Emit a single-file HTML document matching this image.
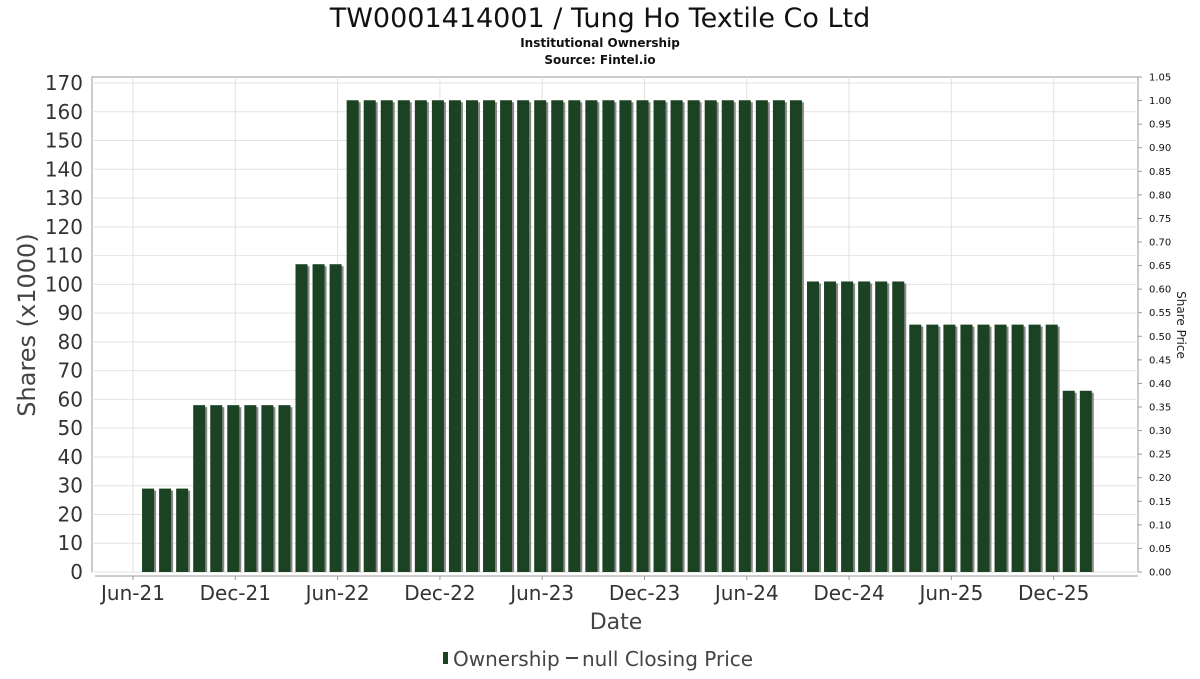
<!DOCTYPE html>
<html><head><meta charset="utf-8"><style>
body{margin:0;background:#fff;font-family:"DejaVu Sans","Liberation Sans",sans-serif;}
svg text{font-family:"DejaVu Sans","Liberation Sans",sans-serif;}
</style></head><body>
<svg id="chart" width="1200" height="675" xmlns="http://www.w3.org/2000/svg">
<text x="600" y="27" text-anchor="middle" font-size="27" fill="#111">TW0001414001 / Tung Ho Textile Co Ltd</text>
<text x="600" y="47" text-anchor="middle" font-size="12" font-weight="bold" fill="#111">Institutional Ownership</text>
<text x="600" y="64" text-anchor="middle" font-size="12" font-weight="bold" fill="#111">Source: Fintel.io</text>
<g id="grid"></g><g id="bars"></g><g id="axes"></g>
<text transform="translate(35,325) rotate(-90)" text-anchor="middle" font-size="24" fill="#444">Shares (x1000)</text>
<text transform="translate(1177,325) rotate(90)" text-anchor="middle" font-size="12" fill="#222">Share Price</text>
<text x="616" y="629" text-anchor="middle" font-size="22" fill="#444">Date</text>
<g>
<rect x="443" y="652" width="5" height="12" fill="#1a4223"/>
<text x="453" y="666" font-size="20" fill="#444">Ownership</text>
<line x1="566" y1="658" x2="578" y2="658" stroke="#444" stroke-width="2"/>
<text x="582" y="666" font-size="20" fill="#444">null Closing Price</text>
</g>
</svg>
<script>
const months = [];
(function(){const m=["Jan","Feb","Mar","Apr","May","Jun","Jul","Aug","Sep","Oct","Nov","Dec"];for(let i=0;i<56;i++){const t=6+i;months.push(m[t%12]+"-"+(21+Math.floor(t/12)));}})();
const shares = [29,29,29,58,58,58,58,58,58,107,107,107,
164,164,164,164,164,164,164,164,164,164,164,164,164,164,164,164,164,164,164,164,164,164,164,164,164,164,164,
101,101,101,101,101,101,86,86,86,86,86,86,86,86,86,63,63];
const yTicks = [0,10,20,30,40,50,60,70,80,90,100,110,120,130,140,150,160,170];
const y2Ticks = [0,0.05,0.1,0.15,0.2,0.25,0.3,0.35,0.4,0.45,0.5,0.55,0.6,0.65,0.7,0.75,0.8,0.85,0.9,0.95,1,1.05];
const xTickLabels = ["Jun-21","Dec-21","Jun-22","Dec-22","Jun-23","Dec-23","Jun-24","Dec-24","Jun-25","Dec-25"];
const NS="http://www.w3.org/2000/svg";
const L=92,R=1138,T=77,B=572;
const y=v=>B-v*(B-83)/170;
const y2=v=>B-v*(B-77)/1.05;
const pitch=17.05;
const xc=i=>131+pitch*(i+1);
function mk(tag,at,par){const e=document.createElementNS(NS,tag);for(const k in at)e.setAttribute(k,at[k]);par.appendChild(e);return e;}
const grid=document.getElementById('grid'),bars=document.getElementById('bars'),axes=document.getElementById('axes');
mk('rect',{x:L,y:T,width:R-L,height:B-T,fill:'#fff',stroke:'#999'},grid);
yTicks.forEach(v=>{const g=mk('line',{x1:L,x2:R,y1:y(v),y2:y(v),stroke:'#e2e2e2'},grid);

const t=mk('text',{x:83,y:y(v)+7,'text-anchor':'end','font-size':20,fill:'#333'},axes);t.textContent=v;
});
y2Ticks.forEach(v=>{mk('line',{x1:R,x2:R+4,y1:y2(v),y2:y2(v),stroke:'#999'},axes);
const t=mk('text',{x:1149,y:y2(v)+3.5,'font-size':10,fill:'#111'},axes);t.textContent=v.toFixed(2);
});
xTickLabels.forEach((s,k)=>{const x=133+k*6*pitch;
const gl=mk('line',{x1:x,x2:x,y1:T,y2:B,stroke:'#e2e2e2'},grid);

mk('line',{x1:x,x2:x,y1:576,y2:580,stroke:'#999'},axes);
const t=mk('text',{x:x,y:600,'text-anchor':'middle','font-size':20,fill:'#333'},axes);t.textContent=s;
});
mk('line',{x1:95,x2:R,y1:576,y2:576,stroke:'#999'},axes);
shares.forEach((v,i)=>{const cx=xc(i),w=12;
const s=mk('rect',{x:cx-w/2+2,y:y(v)+2,width:w,height:B-y(v)-2,fill:'#888'},bars);

const b=mk('rect',{x:cx-w/2,y:y(v),width:w,height:B-y(v),fill:'#1a4223'},bars);
});
</script>
</body></html>
